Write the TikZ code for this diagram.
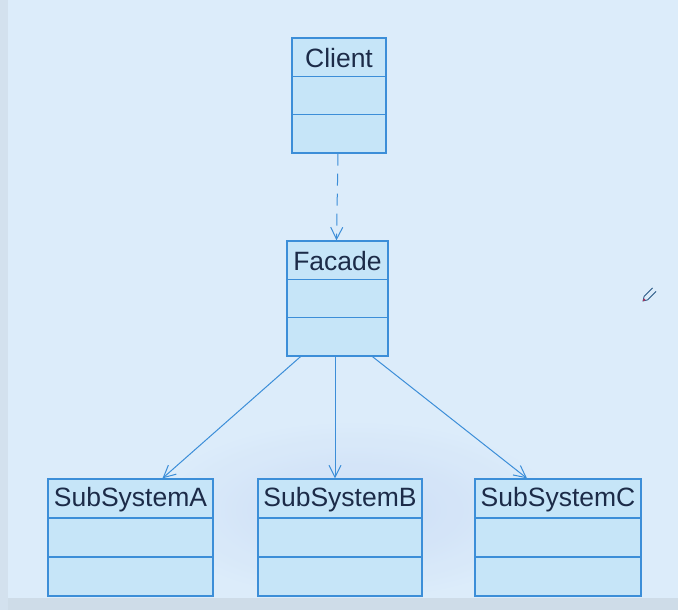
\documentclass[tikz,border=0pt]{standalone}
\usepackage{fontspec}
\setmainfont{Liberation Sans}
\usetikzlibrary{arrows.meta}
\definecolor{bgblue}{HTML}{DCECFA}
\definecolor{bgdeep}{HTML}{C9DAF6}
\definecolor{boxfill}{HTML}{C6E5F8}
\definecolor{boxline}{HTML}{3C8ED8}
\definecolor{txt}{HTML}{1C2B48}
\definecolor{pentip}{HTML}{B0305A}
\tikzset{
  classframe/.style={draw=boxline, fill=boxfill, line width=1.3pt, inner sep=0pt},
  classrule/.style={draw=boxline, line width=1.3pt},
  classname/.style={text=txt, font=\fontsize{26.5}{28}\selectfont, anchor=center},
  dep/.style={draw=boxline, line width=1pt, dash pattern=on 12pt off 8pt,
    -{Straight Barb[length=12pt,width=12pt,line width=1pt]}},
  assoc/.style={draw=boxline, line width=1pt,
    -{Straight Barb[length=12pt,width=12pt,line width=1pt]}},
}
% a class box with three compartments:
% name, left, top, right, bottom, label
\newcommand{\classbox}[6]{%
  \node[classframe, minimum width={#4-#2}, minimum height={#5-#3}]
    (#1) at ({(#2+#4)/2},{(#3+#5)/2}) {};
  \draw[classrule] (#2,{#3+(#5-#3)/3}) -- (#4,{#3+(#5-#3)/3});
  \draw[classrule] (#2,{#3+2*(#5-#3)/3}) -- (#4,{#3+2*(#5-#3)/3});
  \node[classname] (#1-name) at ({(#2+#4)/2},{#3+(#5-#3)/6+1}) {#6};
}
\begin{document}
\begin{tikzpicture}[x=1pt,y=-1pt]
  % backdrop
  \useasboundingbox (0,0) rectangle (678,610);
  \fill[bgblue] (0,0) rectangle (678,610);
  \shade[inner color=bgdeep, outer color=bgblue, opacity=0.8]
    (150,420) rectangle (560,600);
  \fill[bgblue!85!gray] (0,598) rectangle (678,610);
  \fill[bgblue!90!gray] (0,0) rectangle (8,610);

  % classes
  \classbox{client}{292}{38}{386}{153}{Client}
  \classbox{facade}{287}{241}{388}{356}{Facade}
  \classbox{subA}{48}{479}{213}{596}{SubSystemA}
  \classbox{subB}{258}{479}{422}{596}{SubSystemB}
  \classbox{subC}{475}{479}{641}{596}{SubSystemC}

  % relations
  \draw[dep] ([xshift=-1pt]client.south) -- ([xshift=-1pt]facade.north);
  \draw[assoc] ([xshift=-37pt]facade.south) -- ([xshift=32pt]subA.north);
  \draw[assoc] ([xshift=-2.5pt]facade.south) -- ([xshift=-5pt]subB.north);
  \draw[assoc] ([xshift=35pt]facade.south) -- ([xshift=-31pt]subC.north);

  % pen cursor
  \begin{scope}[shift={(648,296)}, rotate=-45]
    \draw[boxline!60!black, line width=0.8pt, fill=bgblue]
      (-2.5,-9) -- (-2.5,3) -- (0,7) -- (2.5,3) -- (2.5,-9);
    \fill[pentip] (-1.3,4.5) -- (0,7.5) -- (1.3,4.5) -- cycle;
  \end{scope}
\end{tikzpicture}
\end{document}
